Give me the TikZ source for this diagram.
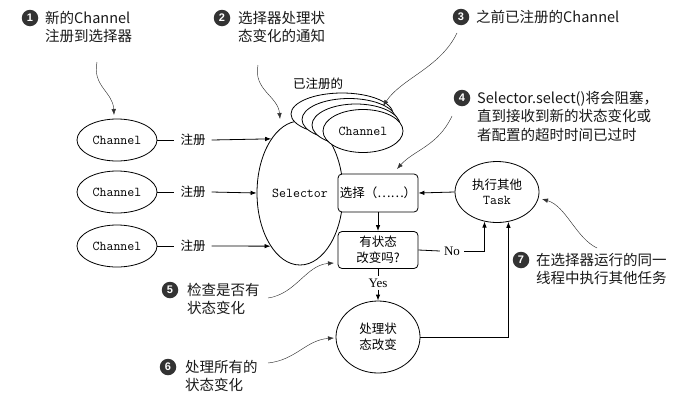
\documentclass[tikz,border=0pt]{standalone}
\usepackage{fontspec}
\setmainfont{Liberation Serif}
\newfontfamily\cjk{Noto Sans CJK SC}
\newfontfamily\numfont{Liberation Sans}
\usetikzlibrary{shapes.geometric,arrows.meta}
\tikzset{
 >={Latex[length=6pt,width=4.5pt]},
 conn/.style={line width=0.8pt,->},
 plain/.style={line width=0.8pt},
 note/.style={line width=0.45pt,->,black!80},
 chan/.style={ellipse,draw,line width=0.8pt,fill=white,inner sep=0pt,minimum width=80pt,minimum height=42pt,font=\fontsize{13.5}{15}\selectfont\ttfamily},
 oval/.style={ellipse,draw,line width=0.8pt,fill=white,inner sep=0pt,align=center},
 box/.style={draw,fill=white,line width=0.8pt,rounded corners=4pt,minimum width=80pt,align=center,inner sep=0pt,font=\fontsize{12.5}{16}\cjk},
 lbl/.style={font=\fontsize{12.5}{15}\cjk,inner xsep=6pt,inner ysep=0pt},
 yn/.style={font=\fontsize{13}{15}\selectfont,inner xsep=4pt,inner ysep=2pt,fill=white},
 num/.style={circle,fill=black!80,text=white,minimum size=16.5pt,inner sep=0pt,font=\fontsize{11}{11}\numfont\bfseries},
 ctext/.style={anchor=north west,inner sep=0pt,align=left,text=black!90,font=\fontsize{14.5}{18.5}\cjk},
}
\begin{document}
\begin{tikzpicture}[x=1pt,y=-1pt]
\useasboundingbox (0,0) rectangle (700,399);

% callouts
\node[num] (c1) at (30,18) {1};
\node[ctext] (t1) at (45,10.7) {新的Channel\\注册到选择器};
\node[num] (c2) at (222,18) {2};
\node[ctext] (t2) at (238,10.7) {选择器处理状\\态变化的通知};
\node[num] (c3) at (461,17) {3};
\node[ctext] (t3) at (476,9.7) {之前已注册的Channel};
\node[num] (c4) at (462,98) {4};
\node[ctext] (t4) at (477,90.7) {Selector.select()将会阻塞，\\直到接收到新的状态变化或\\者配置的超时时间已过时};
\node[num] (c5) at (170,290) {5};
\node[ctext] (t5) at (187,282.7) {检查是否有\\状态变化};
\node[num] (c6) at (168,367) {6};
\node[ctext] (t6) at (185,359.7) {处理所有的\\状态变化};
\node[num] (c7) at (521,260) {7};
\node[ctext] (t7) at (536,252.7) {在选择器运行的同一\\线程中执行其他任务};

% selector and channels
\node[oval,minimum width=86pt,minimum height=144pt,font=\fontsize{13.5}{15}\selectfont\ttfamily] (sel) at (300,193) {Selector};
\node[oval,minimum width=102pt,minimum height=42pt] (st1) at (342,114) {};
\node[oval,minimum width=94pt,minimum height=42pt] (st2) at (349,119.5) {};
\node[oval,minimum width=88pt,minimum height=42pt] (st3) at (356,125) {};
\node[chan,minimum height=43pt] (st4) at (363,131) {Channel};
\node[lbl] (reglbl) at (318,84) {已注册的};

\node[chan] (ch1) at (117,140) {Channel};
\node[chan] (ch2) at (117,192) {Channel};
\node[chan] (ch3) at (117,246) {Channel};
\node[lbl] (r1) at (193,140) {注册};
\node[lbl] (r2) at (193,192) {注册};
\node[lbl] (r3) at (193,246) {注册};
\draw[plain] (ch1.east) -- (r1.west);
\draw[plain] (ch2.east) -- (r2.west);
\draw[plain] (ch3.east) -- (r3.west);
\draw[conn] (r1.east) -- (sel.118.5);
\draw[conn] (r2.east) -- (sel.180);
\draw[conn] (r3.east) -- (sel.241.5);

% flow
\node[box,minimum height=38pt] (b1) at (378,193) {选择（……）};
\node[box,minimum height=37pt] (b2) at (378,250) {有状态\\改变吗?};
\node[oval,minimum width=84pt,minimum height=61pt,font=\fontsize{12.5}{15}\cjk] (task) at (497,192) {执行其他\\{\fontsize{13.5}{15}\selectfont\ttfamily Task}};
\node[oval,minimum width=84pt,minimum height=72pt,font=\fontsize{12.5}{16}\cjk] (proc) at (378,337) {处理状\\态改变};
\node[yn] (no) at (452,251) {No};
\node[yn] (yes) at (378,283) {Yes};

\draw[conn] (task.west) -- (b1.east);
\draw[conn] (b1.south) -- (b2.north);
\draw[plain] (b2.east) -- (no.west);
\draw[conn] (no.east) -| (task.247);
\draw[plain] (b2.south) -- (yes.north);
\draw[conn] (yes.south) -- (proc.north);
\draw[conn] (proc.east) -| (task.291);

% callout leaders
\coordinate (n1s) at (97,62);   \coordinate (n1e) at (114,115);
\coordinate (n2s) at (258,65);  \coordinate (n2e) at (280,119);
\coordinate (n3s) at (457,33);  \coordinate (n3e) at (383,106);
\coordinate (n4s) at (452,116); \coordinate (n4e) at (397,169);
\coordinate (n5s) at (268,298); \coordinate (n5e) at (334,263);
\coordinate (n6s) at (268,363); \coordinate (n6e) at (334,338);
\coordinate (n7s) at (597,248); \coordinate (n7e) at (542,199);
\draw[note] (n1s) .. controls (92,86) and (113,92) .. (n1e);
\draw[note] (n2s) .. controls (253,90) and (278,96) .. (n2e);
\draw[note] (n3s) .. controls (440,68) and (402,78) .. (n3e);
\draw[note] (n4s) .. controls (438,146) and (414,150) .. (n4e);
\draw[note] (n5s) .. controls (296,294) and (306,265) .. (n5e);
\draw[note] (n6s) .. controls (296,360) and (306,340) .. (n6e);
\draw[note] (n7s) .. controls (576,238) and (566,206) .. (n7e);
\end{tikzpicture}
\end{document}
